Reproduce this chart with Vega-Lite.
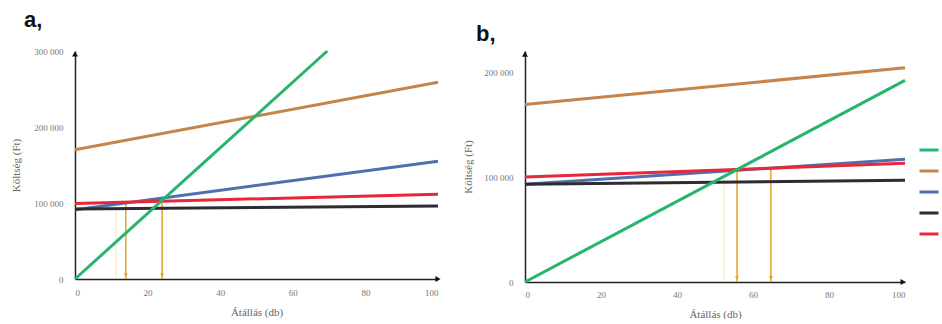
{
  "$schema": "https://vega.github.io/schema/vega-lite/v6.json",
  "background": "white",
  "padding": {"left": 10, "top": 9, "right": 0, "bottom": 0},
  "spacing": 18,
  "config": {
    "view": {"stroke": null},
    "axis": {
      "grid": false, "ticks": false, "domainColor": "#222", "domainWidth": 1.5,
      "labelColor": "#777", "labelFontSize": 9, "labelFont": "Liberation Serif",
      "titleColor": "#666", "titleFontWeight": "normal", "titleFontSize": 11, "titleFont": "Liberation Serif"
    },
    "title": {"font": "Liberation Sans", "fontSize": 22, "fontWeight": "bold", "anchor": "start", "color": "#111", "frame": "group"}
  },
  "datasets": {
    "lines": [
      {"panel": "a", "series": "Költség 1", "x": 0, "y": 170000},
      {"panel": "a", "series": "Költség 1", "x": 100, "y": 259000},
      {"panel": "a", "series": "Költség 2", "x": 0, "y": 91000},
      {"panel": "a", "series": "Költség 2", "x": 100, "y": 155000},
      {"panel": "a", "series": "Költség 3", "x": 0, "y": 92000},
      {"panel": "a", "series": "Költség 3", "x": 100, "y": 96000},
      {"panel": "a", "series": "Költség 4", "x": 0, "y": 99500},
      {"panel": "a", "series": "Költség 4", "x": 100, "y": 111500},
      {"panel": "a", "series": "Árbevétel", "x": 0, "y": 0},
      {"panel": "a", "series": "Árbevétel", "x": 69.5, "y": 300000},
      {"panel": "b", "series": "Költség 1", "x": 0, "y": 169000},
      {"panel": "b", "series": "Költség 1", "x": 100, "y": 204000},
      {"panel": "b", "series": "Költség 2", "x": 0, "y": 93000},
      {"panel": "b", "series": "Költség 2", "x": 100, "y": 117000},
      {"panel": "b", "series": "Költség 3", "x": 0, "y": 93000},
      {"panel": "b", "series": "Költség 3", "x": 100, "y": 97000},
      {"panel": "b", "series": "Költség 4", "x": 0, "y": 100000},
      {"panel": "b", "series": "Költség 4", "x": 100, "y": 113000},
      {"panel": "b", "series": "Árbevétel", "x": 0, "y": 0},
      {"panel": "b", "series": "Árbevétel", "x": 100, "y": 192000}
    ],
    "guides": [
      {"panel": "a", "kind": "faint", "x": 11.3, "y": 100800, "y2": 0},
      {"panel": "a", "kind": "main", "x": 14, "y": 100500, "y2": 0},
      {"panel": "a", "kind": "main", "x": 24, "y": 103000, "y2": 0},
      {"panel": "b", "kind": "faint", "x": 52.4, "y": 106700, "y2": 0},
      {"panel": "b", "kind": "main", "x": 55.8, "y": 108000, "y2": 0},
      {"panel": "b", "kind": "main", "x": 64.7, "y": 108500, "y2": 0}
    ],
    "arrows": [
      {"panel": "a", "axis": "y", "x": 0, "y": 296000},
      {"panel": "a", "axis": "x", "x": 100, "y": 0},
      {"panel": "b", "axis": "y", "x": 0, "y": 217000},
      {"panel": "b", "axis": "x", "x": 99.5, "y": 0}
    ]
  },
  "resolve": {"scale": {"color": "independent", "shape": "independent"}},
  "hconcat": [
    {
      "title": {"text": "a,", "dx": -51, "offset": 13},
      "width": 363,
      "height": 228,
      "encoding": {
        "x": {"field": "x", "type": "quantitative", "scale": {"domain": [0, 100], "nice": false},
              "axis": {"values": [0, 20, 40, 60, 80, 100], "title": "Átállás (db)", "labelPadding": 9, "titlePadding": 9}},
        "y": {"field": "y", "type": "quantitative", "scale": {"domain": [0, 300000], "nice": false},
              "axis": {"values": [0, 100000, 200000, 300000], "title": "Költség (Ft)", "labelExpr": "replace(format(datum.value, ','), ',', ' ')", "labelPadding": 12, "titlePadding": 12}}
      },
      "layer": [
        {"data": {"name": "guides"}, "transform": [{"filter": "datum.panel == 'a' && datum.kind == 'faint'"}],
         "mark": {"type": "rule", "color": "#f5d98a", "strokeWidth": 1, "opacity": 0.6},
         "encoding": {"y2": {"field": "y2"}}},
        {"data": {"name": "guides"}, "transform": [{"filter": "datum.panel == 'a' && datum.kind == 'main'"}],
         "mark": {"type": "rule", "color": "#e0a428", "strokeWidth": 1.5},
         "encoding": {"y2": {"field": "y2"}}},
        {"data": {"name": "lines"}, "transform": [{"filter": "datum.panel == 'a'"}],
         "mark": {"type": "line", "strokeWidth": 3},
         "encoding": {"color": {"field": "series", "type": "nominal",
           "scale": {"domain": ["Árbevétel", "Költség 1", "Költség 2", "Költség 3", "Költség 4"], "range": ["#27b46c", "#c4844a", "#4f6fae", "#2e2b33", "#e8273b"]},
           "legend": null}}},
        {"data": {"name": "guides"}, "transform": [{"filter": "datum.panel == 'a' && datum.kind == 'main'"}],
         "mark": {"type": "point", "shape": "triangle-down", "filled": true, "size": 18, "color": "#e0a428", "opacity": 1, "yOffset": -4},
         "encoding": {"y": {"field": "y2", "type": "quantitative"}}},
        {"data": {"name": "arrows"}, "transform": [{"filter": "datum.panel == 'a'"}],
         "mark": {"type": "point", "filled": true, "size": 35, "color": "#111", "opacity": 1},
         "encoding": {"shape": {"field": "axis", "type": "nominal", "scale": {"domain": ["x", "y"], "range": ["triangle-right", "triangle-up"]}, "legend": null}}}
      ]
    },
    {
      "title": {"text": "b,", "dx": -49, "offset": 5},
      "width": 380,
      "height": 231,
      "encoding": {
        "x": {"field": "x", "type": "quantitative", "scale": {"domain": [0, 100], "nice": false},
              "axis": {"values": [0, 20, 40, 60, 80, 100], "title": "Átállás (db)", "labelPadding": 8, "titlePadding": 9}},
        "y": {"field": "y", "type": "quantitative", "scale": {"domain": [0, 220000], "nice": false},
              "axis": {"values": [0, 100000, 200000], "title": "Költség (Ft)", "labelExpr": "replace(format(datum.value, ','), ',', ' ')", "labelPadding": 12, "titlePadding": 10}}
      },
      "layer": [
        {"data": {"name": "guides"}, "transform": [{"filter": "datum.panel == 'b' && datum.kind == 'faint'"}],
         "mark": {"type": "rule", "color": "#f5d98a", "strokeWidth": 1, "opacity": 0.6},
         "encoding": {"y2": {"field": "y2"}}},
        {"data": {"name": "guides"}, "transform": [{"filter": "datum.panel == 'b' && datum.kind == 'main'"}],
         "mark": {"type": "rule", "color": "#e0a428", "strokeWidth": 1.5},
         "encoding": {"y2": {"field": "y2"}}},
        {"data": {"name": "lines"}, "transform": [{"filter": "datum.panel == 'b'"}],
         "mark": {"type": "line", "strokeWidth": 3},
         "encoding": {"color": {"field": "series", "type": "nominal",
           "scale": {"domain": ["Árbevétel", "Költség 1", "Költség 2", "Költség 3", "Költség 4"], "range": ["#27b46c", "#c4844a", "#4f6fae", "#2e2b33", "#e8273b"]},
           "legend": {"orient": "none", "legendX": 393, "legendY": 88, "title": null, "padding": 0, "labelOffset": 0, "labelLimit": 1, "symbolType": "stroke", "symbolStrokeWidth": 3, "symbolSize": 361, "labelExpr": "''", "rowPadding": 4, "labelFontSize": 11}}}},
        {"data": {"name": "guides"}, "transform": [{"filter": "datum.panel == 'b' && datum.kind == 'main'"}],
         "mark": {"type": "point", "shape": "triangle-down", "filled": true, "size": 18, "color": "#e0a428", "opacity": 1, "yOffset": -4},
         "encoding": {"y": {"field": "y2", "type": "quantitative"}}},
        {"data": {"name": "arrows"}, "transform": [{"filter": "datum.panel == 'b'"}],
         "mark": {"type": "point", "filled": true, "size": 35, "color": "#111", "opacity": 1},
         "encoding": {"shape": {"field": "axis", "type": "nominal", "scale": {"domain": ["x", "y"], "range": ["triangle-right", "triangle-up"]}, "legend": null}}}
      ]
    }
  ]
}
